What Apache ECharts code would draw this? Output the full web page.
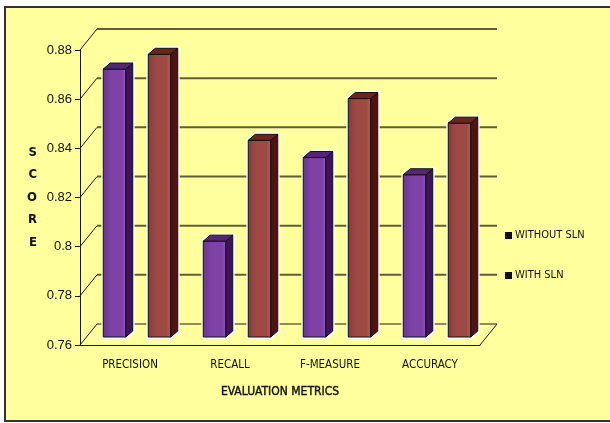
<!DOCTYPE html>
<html>
<head>
<meta charset="utf-8">
<script src="https://cdn.jsdelivr.net/npm/echarts@6/dist/echarts.min.js"></script>
<style>
  html, body { margin: 0; padding: 0; background: #ffffff; }
  #chart { width: 610px; height: 423px; }
</style>
</head>
<body>
<div id="chart"></div>
<script>
const categories = ['PRECISION', 'RECALL', 'F-MEASURE', 'ACCURACY']
const withoutSln = [0.869, 0.799, 0.833, 0.826]
const withSln = [0.875, 0.840, 0.857, 0.847]
const yTicks = [0.76, 0.78, 0.80, 0.82, 0.84, 0.86, 0.88]

const FONT = '"DejaVu Sans Condensed", "Liberation Sans", Arial, sans-serif'
const NUM_FONT = '"Liberation Sans", Arial, sans-serif'
// depth of the back wall and of the bars (pixels)
const DX = 17, DY = -21
const BAR_DX = 7, BAR_DY = -6
const MID_X = 0, MID_Y = -8

// back wall gridlines + slanted connectors
function renderWall(params, api) {
  const cs = params.coordSys
  const y = api.coord([0, api.value(1)])[1]
  const x0 = cs.x, x1 = cs.x + cs.width
  const kids = [
    { type: 'line', shape: { x1: x0, y1: y, x2: x0 + DX, y2: y + DY },
      style: { stroke: '#1a1a1a', lineWidth: 1 } },
    { type: 'line', shape: { x1: x0 + DX, y1: y + DY, x2: x1 + DX, y2: y + DY },
      style: { stroke: params.dataIndex === 0 ? '#1a1a1a' : '#5e5e3a', lineWidth: params.dataIndex === 0 ? 1 : 2 } }
  ]
  if (params.dataIndex === 0) {
    kids.push({ type: 'line', shape: { x1: x1, y1: y, x2: x1 + DX, y2: y + DY },
      style: { stroke: '#1a1a1a', lineWidth: 1 } })
  }
  return { type: 'group', children: kids }
}

function barRenderer(offset, c) {
  return function (params, api) {
    const bw = api.size([1, 0])[0]
    const top = api.coord([api.value(0), api.value(1)])
    const bot = api.coord([api.value(0), yTicks[0]])
    const w = bw * 0.225
    const cx = top[0] + offset * bw + MID_X
    const x0 = cx - w / 2, x1 = cx + w / 2
    const yt = top[1] + MID_Y, yb = bot[1] + MID_Y
    return {
      type: 'group',
      children: [
        { type: 'polygon',
          shape: { points: [[x0, yb], [x0, yt], [x0 + BAR_DX, yt + BAR_DY], [x1 + BAR_DX, yt + BAR_DY], [x1 + BAR_DX, yb + BAR_DY], [x1, yb]] },
          style: { fill: null, stroke: '#ffffff', lineWidth: 4, opacity: 0.9 } },
        { type: 'rect', shape: { x: x0, y: yt, width: w, height: yb - yt },
          style: {
            fill: new echarts.graphic.LinearGradient(0, 0, 1, 0, [
              { offset: 0, color: c.dark },
              { offset: 0.35, color: c.front },
              { offset: 0.8, color: c.front },
              { offset: 1, color: c.light }
            ]),
            stroke: '#111', lineWidth: 1 } },
        { type: 'polygon',
          shape: { points: [[x1, yt], [x1 + BAR_DX, yt + BAR_DY], [x1 + BAR_DX, yb + BAR_DY], [x1, yb]] },
          style: { fill: c.side, stroke: '#111', lineWidth: 1 } },
        { type: 'polygon',
          shape: { points: [[x0, yt], [x0 + BAR_DX, yt + BAR_DY], [x1 + BAR_DX, yt + BAR_DY], [x1, yt]] },
          style: { fill: c.top, stroke: '#111', lineWidth: 1 } }
      ]
    }
  }
}

const purple = { front: '#7e42a6', dark: '#6a348e', light: '#8e58b4', side: '#3c1558', top: '#55257a' }
const brown = { front: '#9d4a45', dark: '#87383a', light: '#b0605a', side: '#511312', top: '#6d2320' }

const myChart = echarts.init(document.getElementById('chart'))
myChart.setOption({
  backgroundColor: '#ffff9e',
  animation: false,
  graphic: [
    { type: 'rect', shape: { x: 0, y: 0, width: 610, height: 6 }, style: { fill: '#fff' }, z: 100 },
    { type: 'rect', shape: { x: 0, y: 0, width: 4, height: 423 }, style: { fill: '#fff' }, z: 100 },
    { type: 'rect', shape: { x: 0, y: 422, width: 610, height: 1 }, style: { fill: '#fff' }, z: 100 },
    { type: 'polyline', shape: { points: [[610, 7], [5, 7], [5, 421], [610, 421]] },
      style: { fill: null, stroke: '#333', lineWidth: 2 }, z: 100 }
  ],
  legend: {
    orient: 'vertical',
    left: 500,
    top: 225,
    itemGap: 29,
    icon: 'rect',
    itemWidth: 7,
    itemHeight: 7,
    textStyle: { fontFamily: FONT, fontSize: 11, color: '#111', padding: [0, 0, 0, -2] },
    data: [
      { name: 'WITHOUT SLN', itemStyle: { color: '#0c0c1e' } },
      { name: 'WITH SLN', itemStyle: { color: '#0c0c1e' } }
    ]
  },
  grid: { left: 80, right: 130, top: 50, bottom: 78 },
  xAxis: {
    type: 'category',
    data: categories,
    name: 'EVALUATION METRICS',
    nameLocation: 'middle',
    nameGap: 41,
    nameTextStyle: { fontFamily: FONT, fontSize: 12, color: '#111', textBorderColor: '#111', textBorderWidth: 0.4 },
    axisLine: { lineStyle: { color: '#1a1a1a', width: 1 } },
    axisTick: { length: 6, lineStyle: { color: '#1a1a1a' } },
    axisLabel: { fontFamily: FONT, fontSize: 11.5, color: '#111', margin: 14 },
    splitLine: { show: false }
  },
  yAxis: {
    type: 'value',
    min: 0.76,
    max: 0.88,
    interval: 0.02,
    name: 'S\nC\nO\nR\nE',
    nameLocation: 'middle',
    nameRotate: 0,
    nameGap: 43,
    nameTextStyle: { fontFamily: FONT, fontSize: 13, fontWeight: 'bold', color: '#111', lineHeight: 22.5 },
    axisLine: { show: true, lineStyle: { color: '#1a1a1a', width: 1 } },
    axisTick: { show: true, length: 5, lineStyle: { color: '#1a1a1a' } },
    axisLabel: { fontFamily: NUM_FONT, fontSize: 13, color: '#111', margin: 8 },
    splitLine: { show: false }
  },
  series: [
    {
      type: 'custom',
      name: 'wall',
      silent: true,
      z: 1,
      renderItem: renderWall,
      data: yTicks.map(v => [0, v])
    },
    {
      type: 'custom',
      name: 'WITHOUT SLN',
      z: 3,
      itemStyle: { color: purple.front },
      renderItem: barRenderer(-0.155, purple),
      data: withoutSln.map((v, i) => [i, v])
    },
    {
      type: 'custom',
      name: 'WITH SLN',
      z: 3,
      itemStyle: { color: brown.front },
      renderItem: barRenderer(0.295, brown),
      data: withSln.map((v, i) => [i, v])
    }
  ]
})
</script>
</body>
</html>
